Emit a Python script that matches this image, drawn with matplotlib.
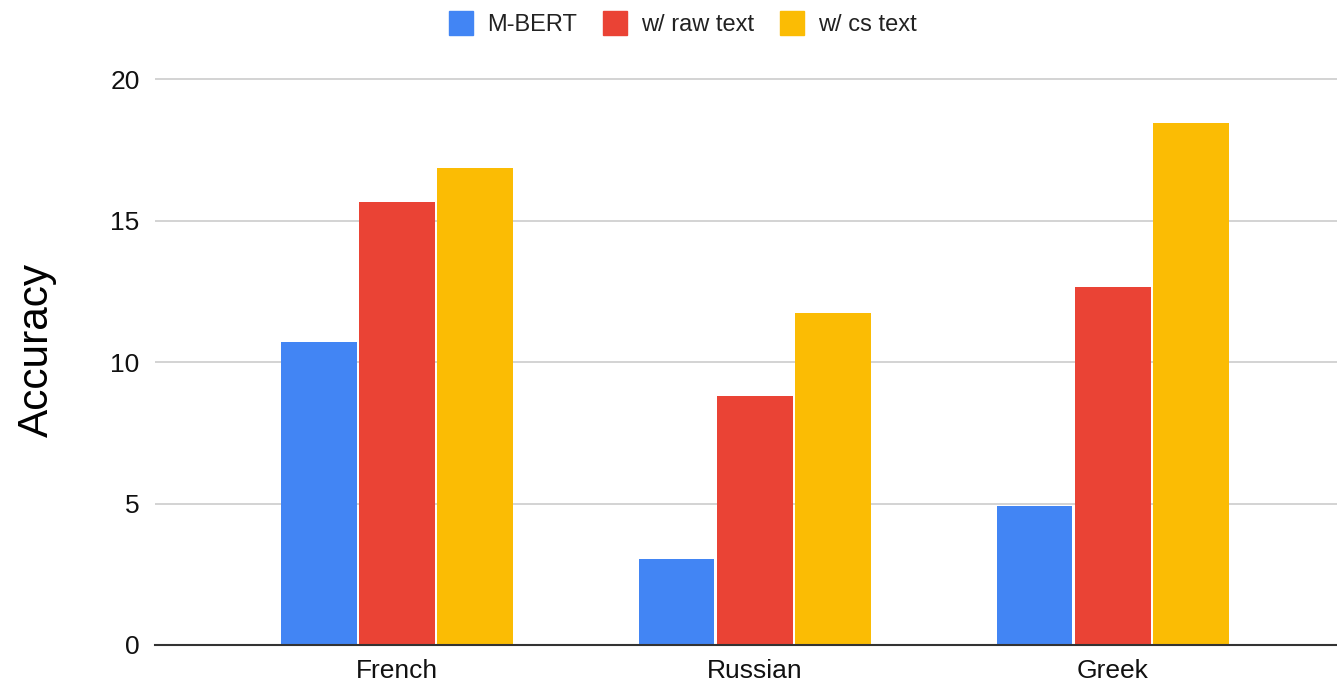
import numpy as np
import matplotlib.pyplot as plt
from matplotlib.lines import Line2D

# data
languages = ['French', 'Russian', 'Greek']
mbert = [10.7, 3.04, 4.93]
raw_text = [15.67, 8.8, 12.67]
cs_text = [16.85, 11.72, 18.44]
series_names = ['M-BERT', 'w/ raw text', 'w/ cs text']
colors = ['#4285F4', '#EA4335', '#FBBC04']

plt.rcParams['font.family'] = ['Liberation Sans', 'DejaVu Sans']

fig = plt.figure(figsize=(13.37, 6.82), dpi=100)
W, H = 1337, 682
# axes box in pixels: x 155..1337, y(0)=645, 28.29 px per unit
y0 = 645
ppu = 28.29
ymax = 20.4
top_px = y0 - ymax * ppu
ax = fig.add_axes([155 / W, 1 - y0 / H, 1 - 155 / W, (y0 - top_px) / H])

x = np.arange(len(languages))
width = 0.212
step = 0.219
for i, (vals, name, c) in enumerate(zip([mbert, raw_text, cs_text], series_names, colors)):
    ax.bar(x + (i - 1) * step, vals, width, color=c, label=name, zorder=3)

ax.set_xlim(-0.676, 2.626)
ax.set_ylim(0, ymax)
ax.set_yticks([0, 5, 10, 15, 20])
ax.set_xticks(x)
ax.set_xticklabels(languages)
ax.tick_params(axis='both', length=0, labelsize=19, colors='#111111')
ax.tick_params(axis='y', pad=11)
ax.tick_params(axis='x', pad=10)
ax.grid(axis='y', color='#cccccc', linewidth=1.2, zorder=0)
for s in ['top', 'right', 'left']:
    ax.spines[s].set_visible(False)
ax.spines['bottom'].set_color('#333333')
ax.spines['bottom'].set_linewidth(1.5)
ax.spines['bottom'].set_zorder(4)

fig.text(37 / W, 1 - 350 / H, 'Accuracy', rotation=90, fontsize=30.5,
         ha='center', va='center', color='#000000')

handles = [Line2D([], [], marker='s', linestyle='none', markersize=17,
                  markerfacecolor=c, markeredgecolor=c) for c in colors]
fig.legend(handles, series_names, loc='center', bbox_to_anchor=(683 / W, 1 - 25 / H),
           ncol=3, frameon=False, fontsize=17, handlelength=1.0,
           handletextpad=0.6, columnspacing=1.1, labelcolor='#222222')

fig.savefig('out.png', dpi=100)
